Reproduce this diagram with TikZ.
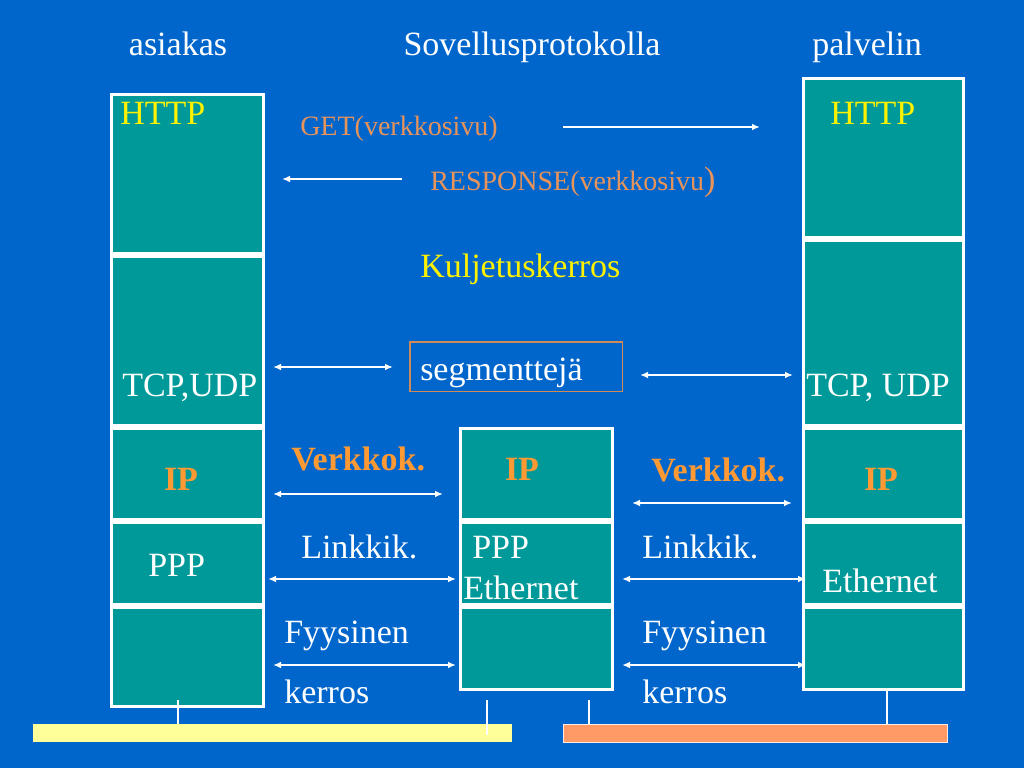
\documentclass[tikz,border=0pt]{standalone}
\usepackage{fontspec}
\setmainfont{Liberation Serif}
\usetikzlibrary{arrows.meta}
\definecolor{bgblue}{HTML}{0066CC}
\definecolor{stackteal}{HTML}{009999}
\definecolor{msgorange}{HTML}{E8935A}
\definecolor{iporange}{HTML}{FF9933}
\definecolor{boxbrown}{HTML}{D08A55}
\definecolor{lanyellow}{HTML}{FFFF99}
\definecolor{lanorange}{HTML}{FF9966}
\begin{document}
\begin{tikzpicture}[
    x=0.75pt, y=-0.75pt,
    cell/.style={rectangle, draw=white, fill=stackteal, line width=2.2pt, anchor=north west, inner sep=0pt},
    txt/.style={anchor=base west, inner sep=0pt, text=white, font=\fontsize{25.5}{30}\selectfont},
    ttl/.style={txt, anchor=base},
    msg/.style={txt, text=msgorange, font=\fontsize{21}{26}\selectfont},
    lay/.style={txt, text=yellow},
    ipl/.style={txt, anchor=base, text=iporange, font=\fontsize{25.5}{30}\selectfont\bfseries},
    arrow/.style={white, line width=1.2pt, -{Latex[length=6pt,width=5pt]}},
    darrow/.style={arrow, {Latex[length=6pt,width=5pt]}-{Latex[length=6pt,width=5pt]}},
    tick/.style={white, line width=0.8pt}
]
\fill[bgblue] (0,0) rectangle (1024,768);
\useasboundingbox (0,0) rectangle (1024,768);

% Headings
\node[ttl] (asiakas) at (178,55) {asiakas};
\node[ttl] (sovellus) at (532,55) {Sovellusprotokolla};
\node[ttl] (palvelin) at (867,55) {palvelin};

% Client stack
\node[cell, minimum width=114pt, minimum height=119.3pt] (cHttp) at (110,93) {};
\node[cell, minimum width=114pt, minimum height=126.8pt] (cTcp) at (110,255) {};
\node[cell, minimum width=114pt, minimum height=68.3pt] (cIp) at (110,427) {};
\node[cell, minimum width=114pt, minimum height=61.5pt] (cLink) at (110,521) {};
\node[cell, minimum width=114pt, minimum height=74.3pt] (cPhys) at (110,606) {};

% Router stack
\node[cell, minimum width=114pt, minimum height=68.3pt] (rIp) at (459,427) {};
\node[cell, minimum width=114pt, minimum height=61.5pt] (rLink) at (459,521) {};
\node[cell, minimum width=114pt, minimum height=61.5pt] (rPhys) at (459,606) {};

% Server stack
\node[cell, minimum width=120pt, minimum height=119.3pt] (sHttp) at (802,77) {};
\node[cell, minimum width=120pt, minimum height=138.8pt] (sTcp) at (802,239) {};
\node[cell, minimum width=120pt, minimum height=68.3pt] (sIp) at (802,427) {};
\node[cell, minimum width=120pt, minimum height=61.5pt] (sLink) at (802,521) {};
\node[cell, minimum width=120pt, minimum height=61.5pt] (sPhys) at (802,606) {};

% Layer labels in stacks
\node[lay] (cHttpL) at (120,124) {HTTP};
\node[lay] (sHttpL) at (830,124) {HTTP};
\node[txt] (cTcpL) at (122,396) {TCP,UDP};
\node[txt] (sTcpL) at (806,396) {TCP, UDP};
\node[ipl] (cIpL) at (181,490) {IP};
\node[ipl] (rIpL) at (522,480) {IP};
\node[ipl] (sIpL) at (881,490) {IP};
\node[txt] (cLinkL) at (148,576) {PPP};
\node[txt] (rPppL) at (472,558) {PPP};
\node[txt] (rEthL) at (463,599) {Ethernet};
\node[txt] (sEthL) at (822,592) {Ethernet};

% Protocol messages
\node[msg] (get) at (300,135) {GET(verkkosivu)};
\node[msg] (resp) at (430,190) {RESPONSE(verkkosivu{\fontsize{25.5}{30}\selectfont)}};
\node[lay] (kulj) at (420,277) {Kuljetuskerros};
\node[rectangle, draw=boxbrown, line width=1.3pt, minimum width=159.5pt, minimum height=37.3pt, anchor=north west] (segbox) at (409,341) {};
\node[txt] (seg) at (420,380) {segmenttejä};
\node[ipl, anchor=base west] (verk1) at (291,470) {Verkkok.};
\node[ipl, anchor=base west] (verk2) at (651,481) {Verkkok.};
\node[txt] (link1) at (301,558) {Linkkik.};
\node[txt] (link2) at (642,558) {Linkkik.};
\node[txt] (fyys1) at (284,643) {Fyysinen};
\node[txt] (fyys2) at (642,643) {Fyysinen};
\node[txt] (kerr1) at (284,703) {kerros};
\node[txt] (kerr2) at (642,703) {kerros};

% Arrow ends
\coordinate (getA) at (563,127); \coordinate (getB) at (760,127);
\coordinate (respA) at (402,179); \coordinate (respB) at (282,179);
\coordinate (tcpA) at (273,367); \coordinate (tcpB) at (393,367);
\coordinate (tcpC) at (640,375); \coordinate (tcpD) at (793,375);
\coordinate (ipA) at (273,494); \coordinate (ipB) at (443,494);
\coordinate (ipC) at (632,503); \coordinate (ipD) at (792,503);
\coordinate (lkA) at (268,579); \coordinate (lkB) at (456,579);
\coordinate (lkC) at (622,579); \coordinate (lkD) at (806,579);
\coordinate (phA) at (273,665); \coordinate (phB) at (456,665);
\coordinate (phC) at (622,665); \coordinate (phD) at (806,665);

% Connections
\draw[arrow] (getA) -- (getB);
\draw[arrow] (respA) -- (respB);
\draw[darrow] (tcpA) -- (tcpB);
\draw[darrow] (tcpC) -- (tcpD);
\draw[darrow] (ipA) -- (ipB);
\draw[darrow] (ipC) -- (ipD);
\draw[darrow] (lkA) -- (lkB);
\draw[darrow] (lkC) -- (lkD);
\draw[darrow] (phA) -- (phB);
\draw[darrow] (phC) -- (phD);

% Networks
\node[rectangle, fill=lanyellow, minimum width=359.25pt, minimum height=13.5pt, anchor=north west, inner sep=0pt] (lan1) at (33,724) {};
\node[rectangle, fill=lanorange, draw=white!80!lanorange, line width=0.8pt, minimum width=288pt, minimum height=13.5pt, anchor=north west, inner sep=0pt] (lan2) at (563,724) {};
\coordinate (t1) at (178,700); \coordinate (t2) at (487,700);
\coordinate (t3) at (589,700); \coordinate (t4) at (887,691);
\draw[tick] (t1) -- (t1 |- lan1.north);
\draw[tick] (t2) -- ([yshift=-8pt]t2 |- lan1.north);
\draw[tick] (t3) -- (t3 |- lan2.north);
\draw[tick] (t4) -- (t4 |- lan2.north);

\end{tikzpicture}
\end{document}
